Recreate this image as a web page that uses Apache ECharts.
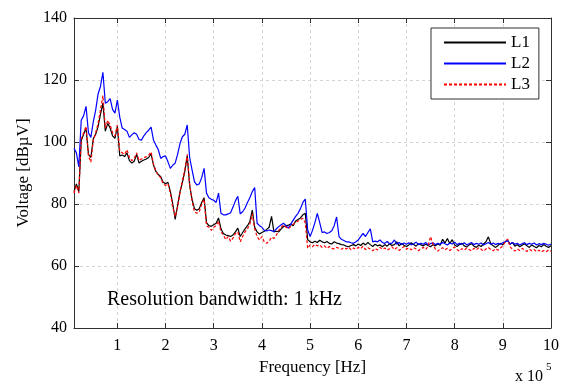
<!DOCTYPE html>
<html>
<head>
<meta charset="utf-8">
<title>Voltage spectrum</title>
<script src="https://cdn.jsdelivr.net/npm/echarts@6/dist/echarts.min.js"></script>
<style>
  html, body { margin: 0; padding: 0; background: #fff; }
  #chart { width: 562px; height: 385px; }
</style>
</head>
<body>
<div id="chart"></div>
<script>
// frequency grid, in units of 1e5 Hz
const freq = [
  0.1,0.15,0.2,0.25,0.3,0.35,0.4,0.45,0.5,0.55,0.6,0.65,0.7,0.75,0.8,0.85,0.9,0.95,
  1,1.05,1.1,1.15,1.2,1.25,1.3,1.35,1.4,1.45,1.5,1.55,1.6,1.65,1.7,1.75,1.8,1.85,1.9,1.95,
  2,2.05,2.1,2.15,2.2,2.25,2.3,2.35,2.4,2.45,2.5,2.55,2.6,2.65,2.7,2.75,2.8,2.85,2.9,2.95,
  3,3.05,3.1,3.15,3.2,3.25,3.3,3.35,3.4,3.45,3.5,3.55,3.6,3.65,3.7,3.75,3.8,3.85,3.9,3.95,
  4,4.05,4.1,4.15,4.2,4.25,4.3,4.35,4.4,4.45,4.5,4.55,4.6,4.65,4.7,4.75,4.8,4.85,4.9,4.95,
  5,5.05,5.1,5.15,5.2,5.25,5.3,5.35,5.4,5.45,5.5,5.55,5.6,5.65,5.7,5.75,5.8,5.85,5.9,5.95,
  6,6.05,6.1,6.15,6.2,6.25,6.3,6.35,6.4,6.45,6.5,6.55,6.6,6.65,6.7,6.75,6.8,6.85,6.9,6.95,
  7,7.05,7.1,7.15,7.2,7.25,7.3,7.35,7.4,7.45,7.5,7.55,7.6,7.65,7.7,7.75,7.8,7.85,7.9,7.95,
  8,8.05,8.1,8.15,8.2,8.25,8.3,8.35,8.4,8.45,8.5,8.55,8.6,8.65,8.7,8.75,8.8,8.85,8.9,8.95,
  9,9.05,9.1,9.15,9.2,9.25,9.3,9.35,9.4,9.45,9.5,9.55,9.6,9.65,9.7,9.75,9.8,9.85,9.9,9.95,
  10
]

const L1 = [
  84,86.5,84,100.5,102.5,104.5,96,95,101,102.5,105,109,112.5,103.5,106,104.5,102,101.2,
  105,95.5,95.8,95.3,96.5,94,93.2,93.8,96,93.2,93.8,94.2,94.5,95,96.2,92.5,90.5,89.5,88.8,87,
  86.5,87,84,80,75,79.5,84,87,90.5,95.5,86,81.5,78.5,78,78.5,80.5,82,74,73,72.8,
  73.3,73.8,75.5,72,70.5,70,69.8,69.5,70,71,72.2,69.5,70.8,72,73,74.3,78,72.5,71,70.3,
  70.8,71.2,71.8,72.5,76,71,71.2,71,72,72.7,73,73.2,73.5,73,74.5,75,75.5,76.5,77,68.5,
  67.8,67.5,68,67.6,68.3,67.8,67.5,67.9,67.3,67.1,67.8,67.4,67.2,66.9,66.8,66.4,66.2,66.6,66.9,66.5,
  67.1,66.6,67.4,66.8,67.6,66.9,66.3,67,66.5,66.8,66.2,66.9,66.4,67.2,66.6,66.9,67.8,66.5,67.3,66.7,
  66.3,66.8,67.5,66.9,66.4,67.2,66.8,66.5,67,66.6,66.2,66.9,66.5,67.1,66.7,68.6,67.4,68.9,67.2,68.5,
  66.8,66.3,66.9,67.3,66.5,66.1,66.8,67.2,66.4,66,66.7,66.3,67.1,67.8,69.4,67.2,66.5,66,66.6,67.3,
  66.8,67.9,68.3,67,67.6,66.4,66.9,66.2,66.7,67.2,66.5,66,66.8,66.3,65.9,66.6,66.2,66.9,66.4,66,
  66.5
]

const L2 = [
  98,96.5,92,107,108.5,111.5,103,101.5,106.5,110.3,115.5,118,122.5,112.5,113,114,110.5,109.3,
  113.5,108,104.5,104,103.5,101.5,102.3,103,102.5,100.8,100.6,102,103,103.8,104.8,100.6,99,97.5,94.7,95.3,
  95.5,93.6,91.5,92.5,93.2,96,99.5,101.7,102.5,105.5,95,91,87.2,86.1,86.5,88.5,91.5,83.5,82,81.5,
  81.2,80.5,83.5,77,76.5,76.5,76.8,77.2,79,81,82.5,76.8,77.5,78.7,80.5,82,84,85.3,73.8,73,
  72.5,71.5,71.3,71.6,71.4,71.1,72,72.7,73.3,73.8,73,72.2,73.5,74.8,76,77,78.5,80.5,81.6,71.6,
  69.5,71.5,74,77,74,70.8,71,70.5,70.8,71.4,73,75.8,69.5,68.6,68.2,67.8,67.8,67.5,67.3,67.8,
  68.4,69.5,70.5,69.5,70.8,72,67.8,68,67.8,68.4,67.6,67.3,67.9,67.2,67.4,68.4,67,67.6,66.9,67.4,
  67,67.5,66.8,67.2,67.7,66.9,67.3,67,67.6,66.8,67.2,67.5,66.9,67.3,67,67.6,67.2,66.8,67.4,67.1,
  67.7,66.9,67.3,67,67.5,66.8,67.2,67.6,66.9,67.3,67,67.4,66.8,67.2,67.6,67,67.4,66.9,67.3,67,
  67.5,67.8,68.2,67.1,67.6,67,67.3,66.8,67.2,67.5,66.9,67.3,67,67.4,66.8,67.2,66.9,67.3,67,66.7,
  67.1
]

const L3 = [
  83.5,86,83.5,101,103,105,95.5,93.5,100.5,103,106,110.5,115,104.5,107,105.5,103,102,
  105.5,97,96.5,96,97.5,95,94,94.6,96.5,94,94.5,95,95.2,95.8,96.8,93,90.5,89.3,88.5,86.5,
  86,86.5,83.5,79,76,79,83.5,87.5,91,96,86.5,81,77.5,77,77.5,80,81.5,73,72.5,71.5,
  72.5,73,74.5,71,70,68.5,69.5,68,69,70.5,71,67.8,69.5,71,72,73.5,76.8,72,69.5,68.4,
  69.5,67.8,67.3,68,69.3,68.9,70,71.5,72.5,73.2,72.5,72,72.8,73.5,74,74.5,75,75.4,74,65.7,
  66.8,66.2,67,66.5,66.8,66,66.5,65.7,66.3,65.7,65.5,66,65.7,65.4,65.9,65.5,66.1,65.2,65.8,65.4,
  66,65.6,66.4,65.3,65.9,65.5,64.9,65.7,65.2,66,65.4,65.8,65.1,65.6,66.2,65.3,65.9,65,65.7,66.3,
  65.4,65.8,65.2,65.9,65.5,64.9,65.6,66,65.3,66.4,69.5,67,65.4,64.8,65.5,65.9,65.2,65.7,65,65.6,
  66.1,65.3,64.8,65.6,65.1,65.8,65.3,64.9,65.7,65.2,65.9,65.4,64.8,65.5,66,65.3,64.9,65.6,65.1,65.8,
  66.5,67.8,68.7,66.2,65.4,64.8,65.5,65,65.7,65.2,64.7,65.4,64.9,65.3,64.6,65.1,64.5,65,64.6,65.2,
  64.8
]

const seriesNames = ['L1', 'L2', 'L3']
const seriesColors = ['#000000', '#0000ff', '#ff0000']

const FONT = 'Liberation Serif'
const AXIS_COLOR = '#303030'
const GRID_COLOR = '#d4d4d4'

const chart = echarts.init(document.getElementById('chart'))

function toPairs(vals) {
  return freq.map((f, i) => [f, vals[i]])
}

function boxAxis(extra) {
  // plain frame axis with inward ticks, no labels
  return Object.assign({
    axisLine: { show: true, lineStyle: { color: AXIS_COLOR, width: 1 } },
    axisTick: { show: true, inside: true, length: 5, lineStyle: { color: AXIS_COLOR } },
    axisLabel: { show: false },
    splitLine: { show: false }
  }, extra)
}

chart.setOption({
  animation: false,
  backgroundColor: '#fff',
  textStyle: { fontFamily: FONT },
  grid: { left: 74, top: 18, right: 11, bottom: 57 },
  legend: {
    orient: 'vertical',
    left: 431,
    top: 28,
    data: seriesNames,
    itemWidth: 62,
    itemHeight: 10,
    itemGap: 4,
    padding: [6, 9, 6, 12],
    borderColor: AXIS_COLOR,
    borderWidth: 1,
    backgroundColor: '#fff',
    itemStyle: { opacity: 0 },
    textStyle: { fontFamily: FONT, fontSize: 17, color: '#000' }
  },
  xAxis: [
    {
      type: 'value',
      min: 0.1,
      max: 10,
      splitNumber: 10,
      name: 'Frequency [Hz]',
      nameLocation: 'middle',
      nameGap: 30,
      nameTextStyle: { fontFamily: FONT, fontSize: 17, color: '#000' },
      axisLine: { show: true, lineStyle: { color: AXIS_COLOR, width: 1 } },
      axisTick: { show: true, inside: true, length: 5, lineStyle: { color: AXIS_COLOR } },
      axisLabel: { showMinLabel: false, fontFamily: FONT, fontSize: 16, color: '#000', margin: 10 },
      splitLine: { show: true, lineStyle: { color: GRID_COLOR, type: [3, 3], width: 1 } }
    },
    boxAxis({ type: 'value', position: 'top', min: 0.1, max: 10, splitNumber: 10 })
  ],
  yAxis: [
    {
      type: 'value',
      min: 40,
      max: 140,
      interval: 20,
      name: 'Voltage [dBµV]',
      nameLocation: 'middle',
      nameGap: 41,
      nameRotate: 90,
      nameTextStyle: { fontFamily: FONT, fontSize: 17, color: '#000' },
      axisLine: { show: true, lineStyle: { color: AXIS_COLOR, width: 1 } },
      axisTick: { show: true, inside: true, length: 5, lineStyle: { color: AXIS_COLOR } },
      axisLabel: { fontFamily: FONT, fontSize: 16, color: '#000', margin: 7 },
      splitLine: { show: true, lineStyle: { color: GRID_COLOR, type: [3, 3], width: 1 } }
    },
    boxAxis({ type: 'value', position: 'right', min: 40, max: 140, interval: 20 })
  ],
  graphic: [
    {
      type: 'text',
      left: 107,
      top: 290,
      style: { text: 'Resolution bandwidth: 1 kHz', font: '20px "Liberation Serif"', fill: '#000' }
    },
    {
      type: 'text',
      left: 515,
      top: 369,
      style: { text: 'x 10', font: '16px "Liberation Serif"', fill: '#000' }
    },
    {
      type: 'text',
      left: 546,
      top: 362,
      style: { text: '5', font: '11px "Liberation Serif"', fill: '#000' }
    }
  ],
  series: [
    {
      name: 'L1', type: 'line', symbol: 'none', data: toPairs(L1),
      itemStyle: { color: seriesColors[0] },
      lineStyle: { color: seriesColors[0], width: 1.2 }
    },
    {
      name: 'L2', type: 'line', symbol: 'none', data: toPairs(L2),
      itemStyle: { color: seriesColors[1] },
      lineStyle: { color: seriesColors[1], width: 1.2 }
    },
    {
      name: 'L3', type: 'line', symbol: 'none', data: toPairs(L3),
      itemStyle: { color: seriesColors[2] },
      lineStyle: { color: seriesColors[2], width: 1.2, type: [3, 2] }
    }
  ]
})
</script>
</body>
</html>
